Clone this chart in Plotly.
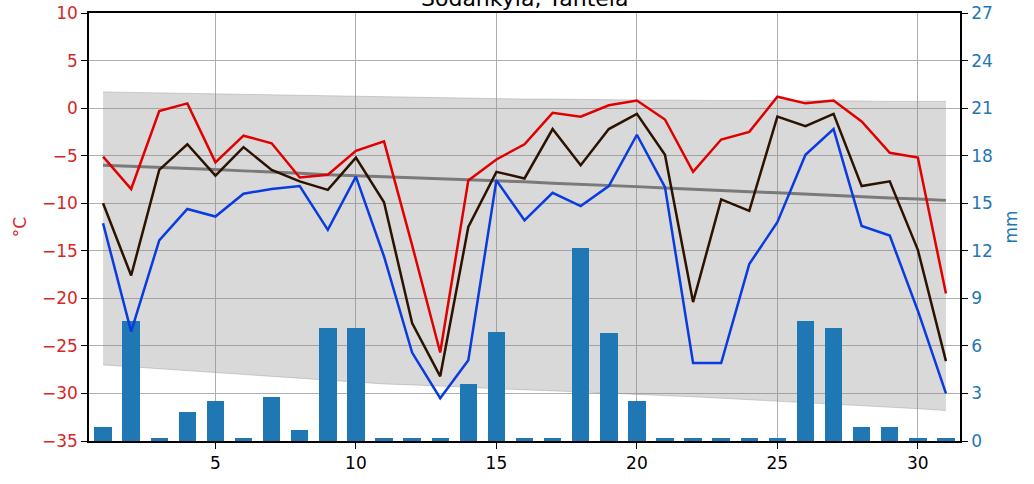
import plotly.graph_objects as go

days = list(range(1, 32))

t_max = [-5.1, -8.5, -0.3, 0.5, -5.7, -2.9, -3.7, -7.3, -7.0, -4.5, -3.5, -14.4, -25.7, -7.6, -5.4, -3.8,
         -0.5, -0.9, 0.3, 0.8, -1.2, -6.7, -3.3, -2.5, 1.2, 0.5, 0.8, -1.4, -4.7, -5.2, -19.5]
t_mean = [-10.0, -17.6, -6.5, -3.8, -7.1, -4.1, -6.5, -7.7, -8.6, -5.2, -9.9, -22.6, -28.2, -12.5, -6.7, -7.4,
          -2.2, -6.0, -2.2, -0.6, -4.9, -20.4, -9.6, -10.8, -0.9, -1.9, -0.6, -8.2, -7.7, -14.9, -26.6]
t_min = [-12.1, -23.5, -13.9, -10.6, -11.4, -9.0, -8.5, -8.2, -12.8, -7.2, -15.6, -25.7, -30.5, -26.5, -7.6, -11.8,
         -8.9, -10.3, -8.2, -2.8, -8.3, -26.8, -26.8, -16.4, -12.0, -4.9, -2.2, -12.4, -13.4, -21.3, -30.0]
precip = [0.9, 7.6, 0.2, 1.8, 2.5, 0.2, 2.8, 0.7, 7.1, 7.1, 0.2, 0.2, 0.2, 3.6, 6.9, 0.2,
          0.2, 12.2, 6.8, 2.5, 0.2, 0.2, 0.2, 0.2, 0.2, 7.6, 7.1, 0.9, 0.9, 0.2, 0.2]

clim_upper = [1.7, 1.65, 1.6, 1.55, 1.5, 1.45, 1.4, 1.35, 1.3, 1.2, 1.15, 1.1, 1.05, 1.0, 1.0, 0.95,
              0.95, 0.9, 0.9, 0.85, 0.85, 0.8, 0.8, 0.8, 0.8, 0.75, 0.75, 0.75, 0.7, 0.7, 0.7]
clim_lower = [-27.0, -27.2, -27.4, -27.6, -27.8, -28.0, -28.2, -28.4, -28.6, -28.8, -29.0, -29.1, -29.2, -29.35,
              -29.5, -29.6, -29.7, -29.8, -29.95, -30.1, -30.2, -30.35, -30.5, -30.65, -30.8, -30.95, -31.1,
              -31.25, -31.4, -31.6, -31.8]
clim_mean = [-6.0, -6.1, -6.2, -6.3, -6.45, -6.6, -6.7, -6.85, -7.0, -7.1, -7.2, -7.3, -7.4, -7.5, -7.6, -7.75,
             -7.9, -8.0, -8.1, -8.25, -8.4, -8.55, -8.7, -8.8, -8.9, -9.05, -9.2, -9.3, -9.45, -9.55, -9.7]

title_text = "Sodankylä, Tähtelä"
x_ticks = [5, 10, 15, 20, 25, 30]
temp_ticks = list(range(-35, 11, 5))
mm_ticks = list(range(0, 28, 3))

FONT = "DejaVu Sans"
RED_TXT = "#d62728"
BLUE_TXT = "#1f77b4"
GRID = "#b0b0b0"

fig = go.Figure()

# climatological band and mean (primary axis, bottom layer)
fig.add_trace(go.Scatter(x=days, y=clim_upper, mode="lines", line=dict(width=0.8, color="rgba(150,150,150,0.5)"),
                         showlegend=False, hoverinfo="skip", yaxis="y"))
fig.add_trace(go.Scatter(x=days, y=clim_lower, mode="lines", line=dict(width=0.8, color="rgba(150,150,150,0.5)"),
                         fill="tonexty", fillcolor="rgba(128,128,128,0.30)", showlegend=False,
                         hoverinfo="skip", yaxis="y"))
fig.add_trace(go.Scatter(x=days, y=clim_mean, mode="lines", line=dict(width=2.9, color="#7a7a7a"),
                         showlegend=False, yaxis="y"))

# precipitation bars (right axis)
fig.add_trace(go.Bar(x=days, y=precip, width=0.62, marker=dict(color="#1f77b4", line=dict(width=0)),
                     showlegend=False, yaxis="y2"))

# daily temperatures (top layer)
fig.add_trace(go.Scatter(x=days, y=t_max, mode="lines", line=dict(width=2.5, color="#e00000"),
                         showlegend=False, yaxis="y3"))
fig.add_trace(go.Scatter(x=days, y=t_mean, mode="lines", line=dict(width=2.5, color="#2b1300"),
                         showlegend=False, yaxis="y3"))
fig.add_trace(go.Scatter(x=days, y=t_min, mode="lines", line=dict(width=2.5, color="#0a3be0"),
                         showlegend=False, yaxis="y3"))

fig.update_layout(
    width=1034, height=484,
    margin=dict(l=89, r=74, t=13, b=43, autoexpand=False),
    paper_bgcolor="white", plot_bgcolor="white",
    font=dict(family=FONT, size=17, color="black"),
    bargap=0,
    xaxis=dict(range=[0.5, 31.5], tickvals=x_ticks, ticktext=[str(v) for v in x_ticks],
               showgrid=True, gridcolor=GRID, gridwidth=1.2, zeroline=False, automargin=False,
               showline=True, linecolor="black", linewidth=1.6, mirror=True,
               ticks="outside", ticklen=6, tickwidth=1.3, tickcolor="black",
               tickfont=dict(family=FONT, size=17, color="black")),
    yaxis=dict(range=[-35, 10], tickvals=temp_ticks, showgrid=True, gridcolor=GRID, gridwidth=1.2,
               zeroline=False, showline=True, linecolor="black", linewidth=1.6, automargin=False,
               ticks="outside", ticklen=6, tickwidth=1.3, tickcolor="black",
               tickfont=dict(family=FONT, size=17, color=RED_TXT),
               title=dict(text="°C", font=dict(family=FONT, size=17, color=RED_TXT), standoff=11)),
    yaxis2=dict(range=[0, 27], tickvals=mm_ticks, overlaying="y", side="right", showgrid=False,
                zeroline=False, showline=True, linecolor="black", linewidth=1.6, automargin=False,
                ticks="outside", ticklen=6, tickwidth=1.3, tickcolor="black",
                tickfont=dict(family=FONT, size=17, color=BLUE_TXT),
                title=dict(text="mm", font=dict(family=FONT, size=17, color=BLUE_TXT), standoff=13)),
    yaxis3=dict(range=[-35, 10], overlaying="y", visible=False, showgrid=False, zeroline=False),
    annotations=[dict(text=title_text, x=0.5, xref="paper", xanchor="center",
                      y=1, yref="paper", yanchor="bottom", yshift=0, showarrow=False,
                      font=dict(family=FONT, size=22, color="black"))],
)

fig.write_html("out.html", config={"displayModeBar": False},
               post_script="document.body.style.margin='0';document.body.style.overflow='hidden';")
